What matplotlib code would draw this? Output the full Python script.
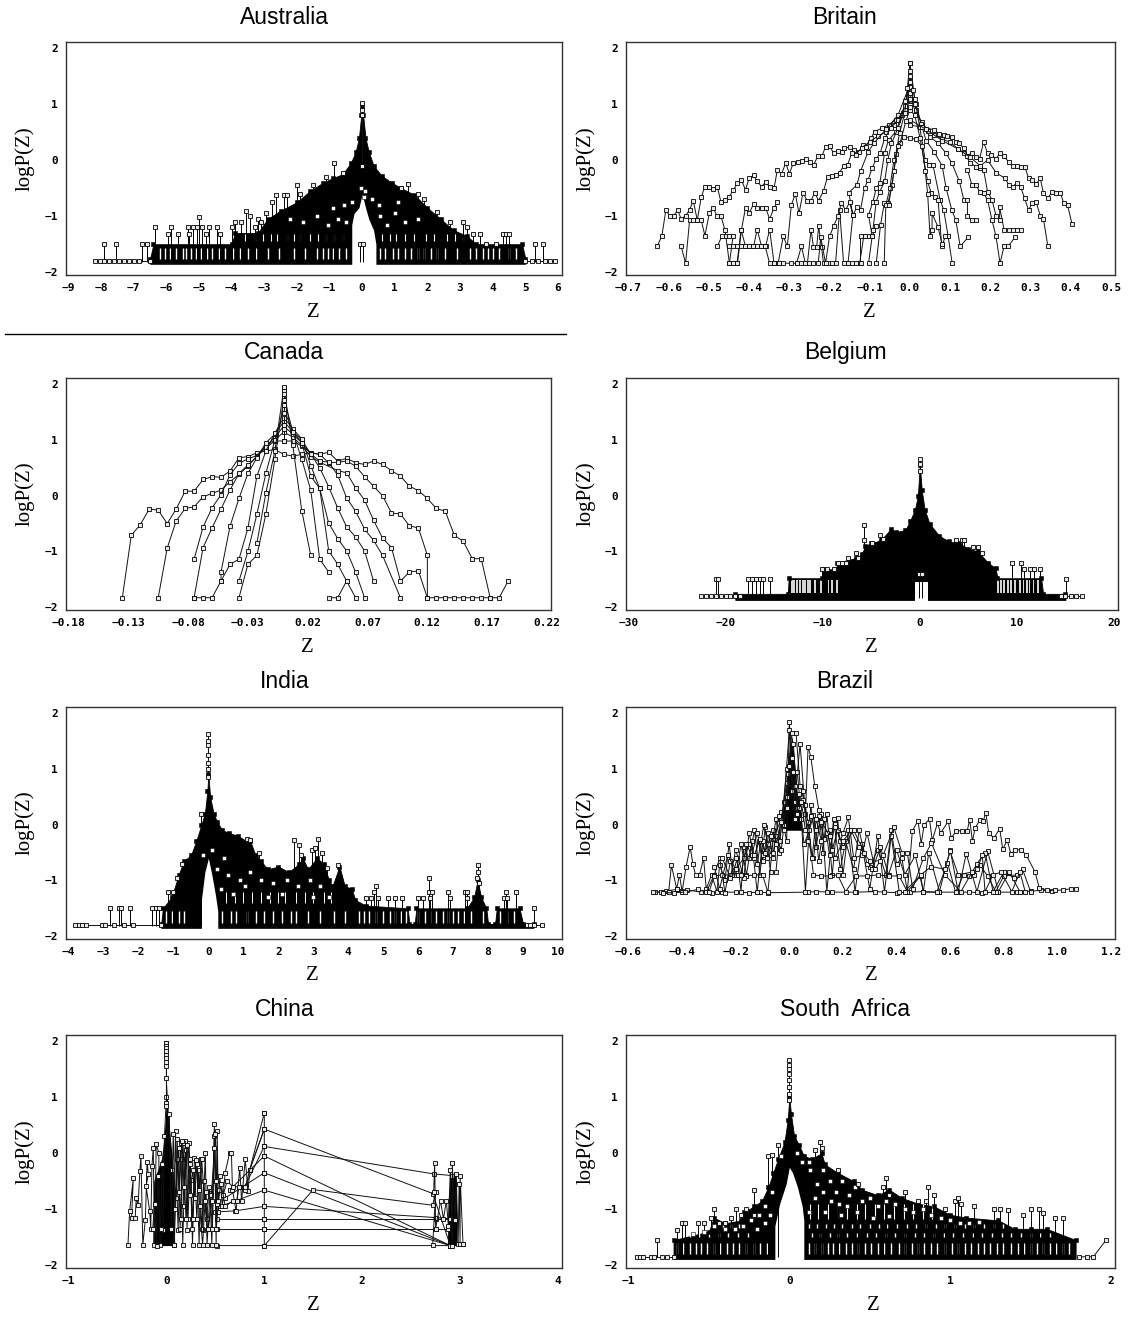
import numpy as np
import matplotlib
matplotlib.use("Agg")
import matplotlib.pyplot as plt
from matplotlib.lines import Line2D

W = 1128
H = 1326

# tick labels
aus_ticks = [-9, -8, -7, -6, -5, -4, -3, -2, -1, 0, 1, 2, 3, 4, 5, 6]
bri_ticks = [-0.7, -0.6, -0.5, -0.4, -0.3, -0.2, -0.1, 0.0, 0.1, 0.2, 0.3, 0.4, 0.5]
can_ticks = [-0.18, -0.13, -0.08, -0.03, 0.02, 0.07, 0.12, 0.17, 0.22]
bel_ticks = [-30, -20, -10, 0, 10, 20]
ind_ticks = [-4, -3, -2, -1, 0, 1, 2, 3, 4, 5, 6, 7, 8, 9, 10]
bra_ticks = [-0.6, -0.4, -0.2, 0.0, 0.2, 0.4, 0.6, 0.8, 1.0, 1.2]
chi_ticks = [-1, 0, 1, 2, 3, 4]
saf_ticks = [-1, 0, 1, 2]
y_ticks = [-2, -1, 0, 1, 2]

# ---------- Canada, one list per curve (z, logP)
can_a = [(-.135,-1.83),(-.1275,-.71),(-.12,-.52),(-.1125,-.24),(-.105,-.26),(-.0975,-.50),(-.09,-.24),(-.0825,.08),(-.075,.08),(-.0675,.29),(-.06,.34),(-.0525,.33),(-.045,.44),(-.0375,.68),(-.03,.70),(-.0225,.77),(-.015,.80),(-.0075,.83),(0,.74),(.0075,.71),(.015,.74),(.0225,.77),(.03,.74),(.0375,.78),(.045,.62),(.0525,.67),(.06,.59),(.0675,.56),(.075,.62),(.0825,.56),(.09,.45),(.0975,.35),(.105,.17),(.1125,.09),(.12,-.05),(.1275,-.23),(.135,-.28),(.1425,-.71),(.15,-.82),(.1575,-1.13),(.165,-1.13),(.1725,-1.83)]
can_b = [(-.105,-1.83),(-.0975,-.94),(-.09,-.455),(-.0825,-.23),(-.075,-.2),(-.0675,-.02),(-.06,.04),(-.0525,.10),(-.045,.25),(-.0375,.38),(-.03,.53),(-.0225,.71),(-.015,.86),(-.0075,.98),(0,.98),(.0075,.98),(.015,.89),(.0225,.77),(.03,.74),(.0375,.59),(.045,.6),(.0525,.62),(.06,.53),(.0675,.34),(.075,.17),(.0825,0),(.09,-.31),(.0975,-.33),(.105,-.54),(.1125,-.58),(.12,-1.07),(.12,-1.83),(.1275,-1.83),(.135,-1.83),(.1425,-1.83),(.15,-1.83),(.1575,-1.83),(.165,-1.83),(.1725,-1.83),(.18,-1.83),(.1875,-1.53)]
can_c = [(-.075,-1.14),(-.0675,-.56),(-.06,-.22),(-.0525,.02),(-.045,.37),(-.0375,.58),(-.03,.66),(-.0225,.72),(-.015,.9),(-.0075,1.0),(0,1.14),(.0075,1.05),(.015,.9),(.0225,.7),(.03,.6),(.045,.45),(.0525,.41),(.06,.14),(.0675,-.08),(.075,-.44),(.0825,-.76),(.09,-.93),(.0975,-1.53),(.105,-1.37),(.1125,-1.35),(.12,-1.83)]
can_d = [(-.075,-1.83),(-.0675,-.93),(-.06,-.58),(-.0525,-.24),(-.045,.1),(-.0375,.4),(-.03,.55),(-.0225,.7),(-.015,.88),(-.0075,1.05),(0,1.25),(.0075,1.1),(.015,.95),(.0225,.75),(.03,.62),(.0375,.6),(.045,.37),(.0525,-.04),(.06,-.28),(.0675,-.6),(.075,-.8),(.0825,-1.07),(.0975,-1.83)]
can_e = [(-.075,-1.83),(-.0675,-1.83),(-.06,-1.83),(-.0525,-1.53),(-.0525,-1.37),(-.045,-.55),(-.0375,-.05),(-.03,.4),(-.0225,.68),(-.015,.95),(-.0075,1.1),(0,1.33),(.0075,1.15),(.015,1.0),(.0225,.75),(.03,.5),(.0375,.16),(.045,-.22),(.0525,-.56),(.06,-.74),(.0675,-.99),(.075,-1.53)]
can_f = [(-.0525,-1.53),(-.045,-1.23),(-.0375,-1.14),(-.03,-.58),(-.0225,.35),(-.015,.8),(-.0075,1.12),(0,1.4),(.0075,1.2),(.015,1.02),(.0225,.54),(.03,.13),(.0375,-.49),(.045,-.77),(.0525,-.99),(.06,-1.37),(.0675,-1.83)]
can_g = [(-.0375,-1.53),(-.03,-1.0),(-.0225,-.33),(-.015,.4),(-.0075,1.0),(0,1.55),(.0075,1.15),(.015,.95),(.0225,.35),(.03,.13),(.0375,-.99),(.045,-1.23),(.0525,-1.53),(.06,-1.83)]
can_h = [(-.0375,-1.83),(-.03,-1.23),(-.0225,-1.07),(-.015,-.33),(-.0075,.65),(0,1.75),(.0075,1.15),(.015,.65),(.0225,.1),(.03,-1.14),(.0375,-1.37)]
can_i = [(-.0225,-.85),(-.015,.05),(-.0075,.8),(0,1.93),(.0075,.9),(.015,-.27),(.0225,-1.07)]
can_j = [(.0375,-1.83),(.045,-1.83),(.0525,-1.53)]
can_peak = [(0,1.95),(0,1.88),(0,1.82),(0,1.72),(0,1.62),(0,1.48),(0,1.26),(0,1.2),(0,.98)]

# ---------- Britain
bri_a = [(-.628,-1.53),(-.617,-1.35),(-.607,-.89),(-.598,-.99),(-.587,-.99),(-.578,-.89),(-.569,-1.05),(-.558,-.99),(-.548,-.89),(-.539,-.72),(-.529,-1.07),(-.519,-1.07),(-.51,-1.35),(-.499,-.95),(-.49,-.85),(-.479,-1.0),(-.47,-1.0),(-.46,-1.25),(-.449,-1.84),(-.44,-1.84),(-.429,-1.84),(-.419,-1.24),(-.409,-.85),(-.4,-.95),(-.389,-.78),(-.38,-.85),(-.369,-.85),(-.359,-.85),(-.349,-1.05),(-.338,-.85),(-.33,-.75)]
bri_b = [(-.569,-1.54),(-.558,-1.84),(-.548,-1.07),(-.539,-1.07),(-.529,-1.07),(-.519,-.66),(-.51,-.47),(-.499,-.48),(-.49,-.52),(-.479,-.48),(-.47,-.75),(-.46,-.71),(-.449,-.65),(-.44,-.54),(-.429,-.41),(-.419,-.36),(-.409,-.53),(-.4,-.32),(-.389,-.27),(-.38,-.38),(-.369,-.47),(-.359,-.39),(-.349,-.48),(-.338,-.5),(-.33,-.18),(-.319,-.24),(-.309,-.05),(-.3,-.24),(-.29,-.05),(-.279,-.04),(-.268,-.01),(-.259,.02),(-.248,-.04),(-.239,-.08),(-.229,.08),(-.219,.07),(-.21,.24),(-.2,.25),(-.189,.12),(-.179,.17),(-.169,.14),(-.163,.21),(-.149,.24),(-.14,.18),(-.127,.15),(-.118,.27),(-.11,.24),(-.097,.39),(-.088,.51),(-.07,.57),(-.053,.63),(-.035,.72),(-.018,.84),(0,1.05)]
bri_c = [(-.479,-1.54),(-.468,-1.36),(-.458,-1.36),(-.449,-1.36),(-.44,-1.36),(-.449,-1.84),(-.44,-1.84),(-.43,-1.84),(-.42,-1.24),(-.409,-1.54),(-.4,-1.54),(-.389,-1.54),(-.38,-1.24),(-.369,-1.54),(-.359,-1.54),(-.349,-1.24),(-.338,-1.84),(-.328,-1.84),(-.315,-1.36),(-.305,-1.54),(-.295,-.8),(-.285,-.6),(-.276,-.95),(-.266,-.58),(-.256,-.72),(-.246,-.72),(-.237,-.58),(-.227,-.72),(-.215,-.55),(-.205,-.3),(-.195,-.28),(-.185,-.27),(-.175,-.22),(-.165,-.1),(-.155,-.08),(-.145,.12),(-.135,.1),(-.12,.22),(-.1,.33),(-.08,.43),(-.06,.5),(-.04,.62),(-.02,.8),(0,1.2)]
bri_d = [(-.449,-1.54),(-.44,-1.54),(-.43,-1.54),(-.42,-1.54),(-.41,-1.54),(-.4,-1.54),(-.39,-1.54),(-.38,-1.54),(-.37,-1.54),(-.36,-1.54),(-.349,-1.84),(-.338,-1.84),(-.325,-1.84),(-.315,-1.84),(-.295,-1.84),(-.28,-1.84),(-.27,-1.84),(-.255,-1.84),(-.246,-1.24),(-.24,-1.55),(-.232,-1.55),(-.227,-1.18),(-.22,-1.55),(-.215,-1.84),(-.205,-1.84),(-.195,-1.84),(-.185,-1.84),(-.175,-.89),(-.165,-1.84),(-.155,-1.84),(-.145,-1.84),(-.135,-1.84),(-.125,-1.84),(-.115,-1.36)]
bri_e = [(-.282,-1.84),(-.27,-1.54),(-.26,-1.84),(-.25,-1.84),(-.24,-1.84),(-.228,-1.84),(-.222,-1.37),(-.21,-1.84),(-.2,-1.36),(-.19,-1.18),(-.179,-1.0),(-.171,-.77),(-.16,-.89),(-.15,-.75),(-.142,-.98),(-.152,-.58),(-.132,-.44),(-.123,-.2),(-.104,.15),(-.09,.3),(-.06,.55),(-.03,.8),(0,1.35)]
bri_f = [(-.154,-1.84),(-.142,-.98),(-.132,-.84),(-.123,-.89),(-.113,-.5),(-.104,-.35),(-.094,-.14),(-.084,.02),(-.074,.13),(-.063,.39),(-.048,.57),(-.03,.72),(0,1.14),(.015,.84),(.03,.68),(.045,.52),(.06,.45),(.08,.38),(.1,.32),(.12,.2),(.135,.12),(.15,-.05),(.165,-.12),(.175,-.14),(.183,-.17),(.193,-.56),(.204,-.71),(.214,-.99),(.223,-1.07),(.223,-.84),(.234,-1.24),(.246,-1.24),(.256,-1.24),(.265,-1.24),(.275,-1.24)]
bri_g = [(-.123,-1.84),(-.123,-1.36),(-.113,-1.36),(-.103,-1.36),(-.094,-1.36),(-.103,-.98),(-.092,-.74),(-.084,-.5),(-.075,-.41),(-.063,.13),(-.053,.36),(-.035,.51),(-.013,.96),(0,1.32),(.015,.9),(.03,.62),(.05,.42),(.07,.3),(.09,.12),(.104,-.05),(.123,-.38),(.134,-.71),(.143,-.71),(.143,-.99),(.154,-1.07),(.164,-1.07)]
bri_h = [(-.103,-1.84),(-.094,-1.36),(-.084,-1.18),(-.092,-1.24),(-.084,-.74),(-.075,-.56),(-.063,-.38),(-.055,0),(-.046,.3),(-.03,.57),(-.013,.9),(0,1.49),(.015,1.0),(.028,.65),(.04,.35),(.06,.15),(.08,-.1),(.09,-.5),(.104,-.89),(.114,-1.07),(.125,-1.54),(.145,-1.37)]
bri_i = [(-.084,-1.84),(-.073,-1.15),(-.064,-.77),(-.055,-.77),(-.044,-.44),(-.035,.11),(-.026,.48),(-.013,.84),(0,1.73),(.012,1.1),(.024,.6),(.038,0),(.048,-.08),(.057,-.08),(.075,-.71),(.084,-.89),(.095,-1.36),(.105,-1.84)]
bri_j = [(-.064,-1.84),(-.06,-.8),(-.05,-.5),(-.04,0),(-.025,.3),(-.01,.7),(0,.9),(.012,.8),(.025,.4),(.044,-.38),(.053,-.59),(.062,-.65),(.07,-.71),(.079,-1.54),(.088,-1.36)]
bri_k = [(-.053,-.8),(-.04,-.2),(-.03,.25),(-.015,.42),(0,.4),(.015,.37),(.03,.25),(.038,-.2),(.044,-.6),(.05,-1.36),(.055,-1.24),(.055,-.95),(.07,-1.2),(.08,-1.5)]
bri_l = [(.0,.62),(.03,.6),(.06,.54),(.073,.47),(.084,.45),(.093,.43),(.104,.41),(.114,.33),(.123,.30),(.134,.21),(.143,.08),(.154,.13),(.164,.05),(.173,.02),(.183,.32),(.193,.13),(.202,.10),(.214,.02),(.224,.13),(.234,.07),(.246,-.04),(.256,-.11),(.265,-.11),(.275,-.125),(.286,-.125),(.295,-.32),(.304,-.35),(.314,-.43),(.324,-.32),(.332,-.59),(.343,-.68),(.353,-.56),(.364,-.58),(.374,-.58),(.382,-.76),(.392,-.8),(.403,-1.14)]
bri_m = [(0,.72),(.04,.55),(.08,.35),(.12,.2),(.15,.05),(.175,-.1),(.193,0),(.215,-.23),(.236,-.32),(.246,-.44),(.256,-.47),(.265,-.41),(.275,-.47),(.285,-.68),(.295,-.89),(.304,-.77),(.314,-.75),(.324,-.99),(.332,-1.05),(.343,-1.54)]
bri_n = [(.143,-.17),(.154,-.44),(.164,-.44),(.173,-.56),(.183,-.59),(.193,-.71),(.204,-1.07),(.214,-1.36),(.224,-1.84),(.234,-1.54),(.244,-1.54),(.262,-1.37)]
bri_peak = [(0,1.73),(0,1.6),(0,1.5),(0,1.4),(0,1.3),(0,1.2),(-.008,1.28),(.008,1.25),(0,1.1),(-.012,1.05),(.012,1.0),(0,.95)]

# ---------- Brazil, jagged runs
bra_a = [(.30,-.75),(.33,-.45),(.36,-.9),(.38,-.1),(.40,-.7),(.42,-.6),(.44,-1.2),(.459,-.11),(.48,.07),(.492,-.34),(.503,0),(.523,.1),(.533,-.28),(.553,.03),(.564,-.15),(.593,.06),(.604,-.24),(.623,-.11),(.643,-.11),(.663,-.12),(.673,.09),(.683,-.3),(.693,-.06),(.712,.09),(.723,.06),(.733,.21),(.744,-.15),(.763,-.24),(.785,-.07),(.796,-.44),(.813,-.28),(.827,-.53),(.843,-.45),(.863,-.45),(.883,-.54),(.916,-.84),(.933,-1.14),(.96,-1.17),(.99,-1.18),(1.02,-1.17),(1.05,-1.15),(1.07,-1.15)]
bra_b = [(-.51,-1.21),(-.48,-1.21),(-.45,-1.2),(-.44,-.73),(-.42,-1.15),(-.41,-.9),(-.40,-1.2),(-.385,-.75),(-.37,-.4),(-.36,-.7),(-.35,-.9),(-.335,-.9),(-.32,-.6),(-.31,-1.15),(-.29,-.9),(-.27,-1.2),(-.26,-.72),(-.24,-1.0),(-.225,-.35),(-.21,-.9),(-.195,-.6),(-.18,-1.2),(-.17,-.4),(-.15,-.6),(-.13,-.1),(-.11,-.9),(-.09,-.05),(-.07,-.85),(-.05,-.85),(-.03,.22),(-.01,-.3),(.0,1.85),(.02,.4),(.04,1.45),(.06,.2),(.07,1.4),(.08,1.22),(.095,.69),(.11,.27),(.125,-.5),(.14,.2),(.16,-.9),(.18,.12),(.2,-.9),(.22,-.1),(.245,-1.2),(.27,-.35),(.3,-1.15),(.33,-.2),(.355,-1.2),(.38,-.2),(.41,-1.2)]
bra_c = [(-.47,-1.22),(-.43,-1.22),(-.39,-1.21),(-.34,-1.16),(-.31,-1.21),(-.28,-.9),(-.26,-.6),(-.24,-1.22),(-.22,-.65),(-.2,-.9),(-.18,-.35),(-.16,-.9),(-.14,-.3),(-.12,-1.21),(-.1,-.3),(-.085,-.6),(-.06,-.1),(-.04,-.5),(-.02,.4),(0,1.7),(.01,.6),(.03,.95),(.045,.1),(.06,-1.2),(.08,.35),(.1,-.4),(.12,.2),(.14,-1.2),(.165,.1),(.19,-.8),(.21,-.3),(.24,-.8),(.26,-.1),(.29,-.7),(.31,-.8),(.34,-.4),(.37,-.9),(.4,-.45),(.43,-.9),(.47,-.55),(.5,-1.2),(.52,-.5),(.56,-1.2),(.6,-.45),(.63,-1.2),(.66,-.52),(.7,-1.2),(.74,-.48),(.78,-1.2),(.82,-.85),(.86,-1.2)]
bra_d = [(-.30,-1.21),(-.28,-.92),(-.25,-.9),(-.22,-.9),(-.19,-.9),(-.16,-.92),(-.13,-.9),(-.1,-.9),(-.08,-1.21),(-.06,-.25),(-.03,.1),(-.01,.75),(.01,1.65),(.025,1.65),(.04,.7),(.06,.35),(.09,-.9),(.12,-.92),(.15,-.92),(.18,-.9),(.21,-1.2),(.25,-.92),(.29,-.92),(.33,-.9),(.37,-.92),(.41,-.92),(.44,-1.2),(.49,-.92),(.5,-1.21),(.55,-1.21),(.59,-.68),(.62,-1.21),(.65,-.9),(.67,-.92),(.69,-.9),(.71,-.72),(.74,-.92),(.77,-1.2),(.8,-.92),(.85,-.9),(.87,-.8),(.9,-1.2)]
bra_e = [(-.28,-.75),(-.26,-1.15),(-.23,-.55),(-.2,-.8),(-.17,-.6),(-.15,-.35),(-.12,-.7),(-.095,.0),(-.07,-.55),(-.05,.1),(-.035,-.3),(-.01,1.0),(.005,1.2),(.02,.1),(.035,.55),(.055,-.35),(.075,-.1),(.09,.18),(.11,-.65),(.13,.1),(.15,-.55),(.17,.02),(.19,-.3),(.22,.13),(.24,-.6),(.27,-.55),(.29,-.15),(.32,-.8),(.35,-.55),(.39,-.05),(.42,-.5),(.44,-.5),(.46,-1.15),(.5,-.6),(.53,-.33),(.58,-.9),(.64,-1.2),(.7,-.7),(.73,-.5),(.76,-1.2),(.8,-.85),(.84,-.95)]
bra_f = [(-.5,-1.21),(-.46,-1.19),(-.42,-1.16),(-.38,-1.17),(-.33,-1.21),(-.29,-1.22),(-.25,-1.21),(-.2,-1.21),(-.15,-1.22),(-.11,-1.21),(-.08,-1.22),(.07,-1.21),(.1,-1.2),(.16,-1.21),(.25,-1.21),(.32,-1.2),(.4,-1.22),(.45,-1.21),(.5,-1.2),(.56,-1.21),(.62,-1.21),(.67,-1.21),(.72,-1.22),(.78,-1.21),(.85,-1.21),(.9,-1.19),(.94,-1.18),(.98,-1.19)]
bra_g = [(.43,-1.2),(.49,-.9),(.53,-.75),(.58,-.8),(.6,-.48),(.63,-.9),(.68,-.85),(.7,-.8),(.72,-.55),(.73,-1.2),(.76,-.9),(.79,-.85),(.83,-1.2),(.86,-.85),(.88,-1.2)]
bra_h = [(-.25,-.6),(-.22,-.95),(-.2,-.45),(-.17,-.95),(-.15,-.15),(-.13,-.6),(-.115,-.3),(-.1,-.65),(-.08,-.15),(-.06,-.6),(-.05,-.2),(-.03,-.45),(-.02,.0),(-.005,.9),(.015,1.45),(.03,.3),(.05,.6),(.07,-.3),(.09,-.6),(.11,.15),(.13,-.25),(.15,-.1),(.17,-.6),(.2,-.3),(.23,-.1),(.26,-.4),(.3,-.65),(.34,-.65)]
bra_i = [(-.2,-.6),(-.18,-.9),(-.16,-.35),(-.14,-.55),(-.12,-.15),(-.1,-.55),(-.08,-.35),(-.06,-.5),(-.04,.15),(-.02,-.1),(-.01,.5),(.01,1.2),(.02,.7),(.035,.3),(.05,.45),(.07,.05),(.085,-.6),(.1,.1),(.12,-.3),(.14,-.15),(.16,-.45),(.18,-.1),(.2,-.4),(.24,-.1),(.28,-.5)]
bra_j = [(-.13,-.55),(-.11,-.25),(-.09,-.5),(-.07,-.2),(-.05,-.35),(-.03,.05),(-.01,.3),(.0,1.05),(.015,.95),(.03,.2),(.045,.4),(.06,-.1),(.08,.15),(.1,-.1),(.12,.05),(.15,-.2),(.17,-.05),(.2,-.15)]
bra_core = [(-.025,.2),(-.012,.7),(0,1.3),(.01,1.6),(.02,1.1),(.03,.55),(.045,.2)]

# ---------- China, jagged runs
chi_a = [(-.393,-1.64),(-.375,-1.03),(-.338,-.45),(-.356,-1.16),(-.319,-1.16),(-.308,-.8),(-.289,-.93),(-.271,-.32),(-.26,-.05),(-.241,-1.64),(-.215,-1.19),(-.197,-.15),(-.185,-.38),(-.208,-.59),(-.17,-1.04),(-.16,-1.35),(-.148,-.23),(-.134,.1),(-.122,-1.64),(-.104,.16),(-.078,.01),(-.067,-1.64),(-.037,-1.37),(-.02,.3),(.0,1.0),(.0,1.97)]
chi_b = [(.074,-1.64),(.093,.4),(.119,-1.37),(.145,.19),(.167,-1.64),(.193,.22),(.211,-1.37),(.23,.19),(.249,-.47),(.267,-1.64),(.286,-.08),(.312,-.17),(.334,-1.64),(.352,-.11),(.371,-1.37),(.397,0),(.415,-1.64),(.445,-.71),(.464,-1.64),(.49,.52),(.508,-1.64),(.519,.4),(.53,-1.05),(.545,-.41),(.571,-.95),(.6,-.35),(.645,0),(.664,.01),(.675,-.65),(.712,-1.04),(.749,-.26),(.768,-.86),(.805,-.11),(.835,-.68),(.85,-.3),(1,.43)]
chi_c = [(.06,-.3),(.1,-.8),(.125,.1),(.14,-1.35),(.16,-.1),(.18,-.95),(.205,.05),(.22,-1.18),(.245,-.1),(.26,-1.35),(.29,-.3),(.31,-1.18),(.33,-.3),(.36,-1.35),(.38,-.5),(.41,-1.18),(.44,-.6),(.47,-1.35),(.49,.3),(.51,-1.35),(.54,-.65),(.58,-.75),(.62,-.5),(.68,-.6),(.75,-.6),(.8,-.65),(1,.72)]
chi_d = [(.08,-1.64),(.11,-.1),(.15,-1.18),(.17,.18),(.2,-1.18),(.24,-.2),(.27,-1.18),(.3,-.12),(.34,-.95),(.37,-1.64),(.4,-.7),(.43,-1.35),(.46,-.75),(.5,.35),(.52,-.9),(.56,-.55),(.6,-.95),(.68,-.85),(.72,-.86),(.74,-.6),(.8,-.6),(1,.12),(2.73,-.37),(2.92,-.4)]
chi_e = [(.52,-1.65),(1,-1.65),(2.9,-1.65),(3.0,-1.63),(3.03,-1.63)]
chi_f = [(.52,-1.35),(1,-1.35),(2.75,-1.35),(2.88,-1.35)]
chi_g = [(.52,-1.18),(1,-1.18),(2.75,-1.18),(2.9,-1.18)]
chi_h = [(.5,-1.05),(.7,-1.03),(1,-.95),(2.75,-1.15),(2.9,-1.17)]
chi_i = [(.55,-.95),(1,-.66),(2.9,-1.65)]
chi_j = [(.6,-.8),(1,-.35),(2.9,-1.65)]
chi_k = [(.65,-.65),(1,-.05),(2.9,-1.65)]
chi_l = [(.85,-.3),(1,.43),(2.72,-.72),(2.9,-1.65)]
chi_m = [(1,.72),(1,.43),(1,.12),(1,-.05),(1,-.35),(1,-.66),(1,-.95),(1,-1.18),(1,-1.35),(1,-1.65),(1.5,-.65),(2.72,-.93),(2.75,-.7),(2.72,-1.64)]
chi_n = [(2.73,-.7),(2.74,-.17),(2.75,-1.35),(2.8,-.85),(2.83,-1.17),(2.86,-.85),(2.88,-1.3),(2.9,-.3),(2.92,-1.65),(2.92,-.18),(2.95,-1.2),(2.96,-.38),(2.98,-1.63),(2.99,-.55),(3.0,-1.63),(3.0,-.4),(3.03,-1.63)]
chi_o = [(-.14,-1.35),(-.12,-.9),(-.1,-1.65),(-.09,-.4),(-.06,-1.35),(-.04,-.2),(.03,.7),(.05,-1.35),(.07,.35),(.09,-1.0),(.11,.25),(.13,-.7),(.16,.22),(.18,-.6),(.21,.15),(.24,-.75),(.27,-.3),(.29,-.8),(.31,-.2),(.33,-.65),(.36,-.1),(.39,-.85),(.42,-1.35),(.47,-.85),(.49,.1),(.51,-.5),(.53,-.85)]
chi_core = [(-.14,-1.65),(-.13,-.5),(-.09,-.3),(-.05,-.1),(-.03,.2),(-.01,.6),(0,1.3),(.012,.9),(.03,.45),(.05,.1),(.07,-.3),(.085,-1.65)]
chi_blob = [(2.87,-1.65),(2.88,-.8),(2.9,-.45),(2.94,-.35),(2.96,-.4),(2.97,-1.65)]
chi_peak = [(0,1.97),(0,1.92),(0,1.87),(0,1.82),(0,1.76),(0,1.7),(0,1.63),(0,1.55),(0,1.35),(0,.9),(0,.85)]

# ---------- dense panels: envelope top of the black mass, hole under the peak,
# stems above the mass, peak stack, tail points on the floor, white stripes and specks
aus_env = [(-6.5,-1.76),(-6.4,-1.5),(-4.0,-1.5),(-3.9,-1.3),(-3.2,-1.3),(-2.9,-1.05),(-2.5,-.9),(-2.0,-.75),(-1.6,-.55),(-1.2,-.4),(-.9,-.32),(-.6,-.25),(-.35,-.05),(-.2,.15),(-.1,.4),(-.03,.8),(0,.95),(.03,.8),(.1,.4),(.2,.15),(.35,-.1),(.6,-.28),(.9,-.4),(1.2,-.5),(1.6,-.62),(2.0,-.85),(2.4,-1.05),(2.8,-1.25),(3.2,-1.35),(3.5,-1.5),(4.9,-1.5),(5.0,-1.76)]
aus_hole = [(-.32,-1.15),(-.25,-.95),(-.1,-.85),(0,-.6),(.08,-.8),(.2,-1.05),(.35,-1.25),(.42,-1.5)]
aus_stem = [(-7.9,-1.5),(-7.55,-1.5),(-6.75,-1.5),(-6.6,-1.5),(-6.35,-1.2),(-5.85,-1.2),(-5.95,-1.32),(-5.65,-1.32),(-5.35,-1.2),(-5.2,-1.2),(-5.3,-1.32),(-5.05,-1.2),(-5.0,-1.02),(-4.9,-1.2),(-4.8,-1.32),(-4.7,-1.2),(-4.45,-1.2),(-4.35,-1.32),(-4.0,-1.2),(-3.9,-1.1),(-3.7,-1.1),(-3.55,-.9),(-3.45,-1.0),(-3.3,-1.2),(-3.2,-1.05),(-3.1,-1.1),(-2.95,-.95),(-2.75,-.75),(-2.65,-.62),(-2.4,-.62),(-2.3,-.62),(-2.0,-.45),(-1.9,-.6),(-1.5,-.45),(-1.1,-.3),(-.85,-.05),(-.6,-.22),(1.4,-.43),(1.2,-.5),(1.7,-.6),(1.9,-.7),(2.3,-.92),(2.7,-1.1),(3.1,-1.1),(3.2,-1.2),(3.4,-1.32),(3.6,-1.32),(4.1,-1.5),(4.3,-1.32),(4.4,-1.32),(4.5,-1.32),(3.8,-1.5),(5.3,-1.5),(5.55,-1.5),(-.07,-1.5),(.03,-1.5)]
aus_peak = [(0,1.02),(0,.9),(0,.8),(0,-.1)]
aus_tail_l = [(-8.2,-1.8),(-8.05,-1.8),(-7.9,-1.8),(-7.75,-1.8),(-7.6,-1.8),(-7.45,-1.8),(-7.3,-1.8),(-7.15,-1.8),(-7.0,-1.8),(-6.85,-1.8),(-6.5,-1.8)]
aus_tail_r = [(5.0,-1.8),(5.2,-1.8),(5.4,-1.8),(5.6,-1.8),(5.75,-1.8),(5.9,-1.8)]
aus_gap1 = [-6.75,-6.6,-6.2,-6.05,-5.9,-5.7,-5.5,-5.4,-5.25,-5.1,-4.95,-4.75,-4.6,-4.4,-4.2,-3.95,-3.75,-3.5,-3.25,-2.9,-2.55,-2.1,-1.75,-1.4,-1.2,-1.05,-.9,-.7,-.5,.55,.7,.95,1.1,1.3,1.5,1.7,1.9,2.1,2.3,2.55,2.9,3.3,3.5,3.7,3.85,4.0,4.2,4.5,4.7]
aus_gap2 = [-3.6,-3.3,-3.05,-2.8,-2.6,-2.3,-2.1,-1.9,-1.6,-1.35,-1.1,-.85,-.6,.6,.85,1.05,1.3,1.6,1.95,2.2,2.6,2.85,3.1]
aus_speck = [(-.5,-1.1),(-.75,-1.05),(-1.05,-1.15),(-1.4,-1.0),(-1.8,-1.1),(-2.2,-1.05),(.55,-1.0),(.75,-1.15),(1.0,-.95),(1.3,-1.1),(1.7,-1.05),(.1,-.55),(-.05,-.5),(.05,-.65),(-.3,-.75),(.3,-.7),(.5,-.8),(-.55,-.8),(-.9,-.85),(1.1,-.75)]

bel_env = [(-19,-1.76),(-13.6,-1.76),(-13.5,-1.48),(-10.1,-1.48),(-10.0,-1.32),(-8.6,-1.32),(-8.5,-1.2),(-6.6,-1.12),(-6.0,-1.05),(-5.6,-.9),(-5,-.85),(-4,-.8),(-3,-.6),(-2.5,-.65),(-1.5,-.62),(-1,-.45),(-.5,-.25),(-.2,0),(0,.55),(.2,.1),(.5,-.25),(1,-.5),(2,-.72),(3,-.82),(4,-.85),(5,-.95),(6,-1.0),(7,-1.2),(7.8,-1.3),(8,-1.48),(12.5,-1.48),(12.7,-1.76),(15,-1.76)]
bel_hole = [(-.45,-1.55),(.85,-1.55)]
bel_stem = [(-21,-1.5),(-20.8,-1.5),(-17.7,-1.5),(-17.3,-1.5),(-16.9,-1.5),(-16.5,-1.5),(-16.1,-1.5),(-15.4,-1.5),(-10.1,-1.32),(-9.6,-1.32),(-8.8,-1.32),(-8.4,-1.2),(-8.0,-1.2),(-7.6,-1.2),(-7.4,-1.12),(-6.6,-1.03),(-6.4,-1.12),(-5.7,-.53),(-5.7,-.8),(-4.9,-.85),(-4.1,-.7),(-3.8,-.78),(-.1,-1.4),(.2,-1.4),(3.7,-.8),(4.3,-.8),(4.6,-.8),(5.5,-.92),(6.0,-.92),(6.4,-1.03),(9.5,-1.2),(10.4,-1.2),(10.7,-1.32),(11.3,-1.32),(11.8,-1.32),(12.4,-1.32),(15.1,-1.5)]
bel_peak = [(0,.65),(0,.57),(0,.45)]
bel_tail_l = [(-22.5,-1.8),(-22,-1.8),(-21.5,-1.8),(-21,-1.8),(-20.5,-1.8),(-20,-1.8),(-19.5,-1.8),(-19,-1.8),(-18.5,-1.8)]
bel_tail_r = [(14.5,-1.8),(15,-1.8),(15.6,-1.8),(16.1,-1.8),(16.7,-1.8)]
bel_gap1 = [-13.2,-13.0,-12.6,-12.3,-12.0,-11.8,-11.5,-11.3,-10.8,-10.2,-9.5,-9.0,-8.5,8.1,8.4,8.7,9.1,9.4,9.8,10.3,10.7,11.0,11.4,11.8,12.2]
bel_gap2 = [-18,-17.6,-17.3,-17,-16.7,-16.4,-15.8,-15.1,-14.7,-14.2,-13.8]

ind_env = [(-1.35,-1.78),(-1.3,-1.5),(-1.05,-1.3),(-.85,-.9),(-.7,-.65),(-.5,-.55),(-.35,-.3),(-.2,0),(-.1,.2),(-.03,.6),(0,.9),(.05,.5),(.15,.2),(.25,.05),(.4,-.1),(.6,-.15),(.85,-.2),(1.1,-.3),(1.2,-.3),(1.35,-.55),(1.5,-.65),(1.7,-.8),(2.0,-.75),(2.3,-.85),(2.6,-.7),(2.7,-.6),(2.85,-.8),(3.1,-.6),(3.3,-.7),(3.45,-1.0),(3.55,-1.1),(3.75,-.75),(3.9,-1.1),(4.1,-1.15),(4.2,-1.35),(4.5,-1.45),(5.7,-1.5),(5.75,-1.78),(5.9,-1.78),(5.95,-1.5),(7.4,-1.5),(7.6,-1.3),(7.7,-1.0),(7.8,-1.3),(7.95,-1.5),(8.0,-1.78),(8.2,-1.78),(8.25,-1.5),(8.9,-1.5),(9.0,-1.78),(9.3,-1.78)]
ind_hole = [(-.2,-1.35),(-.1,-.85),(0,-.6),(.1,-.9),(.2,-1.25),(.27,-1.55)]
ind_stem = [(-2.8,-1.5),(-2.55,-1.5),(-2.5,-1.5),(-2.25,-1.5),(-1.6,-1.5),(-1.5,-1.5),(-1.4,-1.5),(-1.15,-1.2),(-1.0,-1.2),(-.9,-.95),(-.75,-.7),(-.2,.2),(1.1,-.25),(1.2,-.27),(1.45,-.5),(2.45,-.27),(2.6,-.37),(2.65,-.55),(2.95,-.45),(3.05,-.42),(3.15,-.25),(3.25,-.5),(3.4,-.78),(3.7,-.72),(4.75,-1.2),(4.8,-1.1),(4.5,-1.32),(4.65,-1.32),(4.85,-1.32),(5.15,-1.32),(5.35,-1.32),(5.55,-1.32),(6.0,-1.32),(6.15,-1.32),(6.3,-.95),(6.3,-1.2),(6.4,-1.2),(6.35,-1.32),(6.85,-1.2),(6.9,-1.32),(7.35,-1.2),(7.4,-1.2),(7.4,-1.32),(7.7,-.72),(7.7,-.85),(7.68,-.95),(7.75,-1.05),(8.5,-1.2),(8.45,-1.32),(8.55,-1.32),(8.8,-1.2),(9.3,-1.5)]
ind_peak = [(0,1.62),(0,1.5),(0,1.42),(0,1.25),(0,1.1),(0,1.0),(0,.85)]
ind_tail_l = [(-3.8,-1.8),(-3.7,-1.8),(-3.6,-1.8),(-3.5,-1.8),(-3.05,-1.8),(-2.95,-1.8),(-2.7,-1.8),(-2.4,-1.8),(-2.15,-1.8),(-1.35,-1.8)]
ind_tail_r = [(9.1,-1.8),(9.2,-1.8),(9.3,-1.8),(9.55,-1.8)]
ind_gap1 = [-1.2,-1.05,-.85,-.7,.4,.65,.8,1.1,1.35,1.6,1.85,2.1,2.35,2.5,2.85,3.2,3.6,3.9,4.3,4.45,4.6,4.8,5.0,5.2,5.35,5.5,5.65,6.0,6.2,6.35,6.5,6.7,6.85,7.0,7.15,7.3,7.5,7.85,8.35,8.55,8.75]
ind_gap2 = [.5,.75,1.0,1.25,1.5,1.75,2.0,2.2,2.5,2.75,3.0,3.3,3.5]
ind_speck = [(.55,-.9),(.9,-1.0),(1.2,-.85),(1.05,-1.1),(1.5,-1.0),(1.85,-1.05),(2.25,-1.0),(2.55,-1.1),(2.9,-1.0),(3.2,-1.1),(3.45,-1.3),(.35,-1.15),(.7,-1.25),(1.7,-1.3),(2.1,-1.25),(3.0,-1.3),(.25,-.8),(.45,-.6),(-.15,-.55),(.1,-.45)]

saf_env = [(-.72,-1.55),(-.5,-1.4),(-.47,-1.15),(-.4,-1.25),(-.3,-1.2),(-.28,-1.05),(-.22,-.95),(-.17,-.85),(-.13,-.6),(-.1,-.35),(-.07,-.1),(-.03,.2),(-.01,.6),(0,1.0),(.01,.7),(.03,.3),(.06,.15),(.09,-.05),(.14,-.1),(.2,0),(.22,-.2),(.3,-.35),(.4,-.5),(.45,-.65),(.55,-.75),(.62,-.65),(.7,-.8),(.8,-.9),(.9,-.95),(1.0,-1.1),(1.1,-1.15),(1.3,-1.2),(1.4,-1.35),(1.5,-1.35),(1.6,-1.35),(1.78,-1.55)]
saf_hole = [(-.09,-1.3),(-.06,-.9),(-.02,-.55),(0,-.25),(.02,-.35),(.05,-.6),(.08,-.95),(.09,-1.2)]
saf_stem = [(-.82,-1.55),(-.7,-1.38),(-.67,-1.25),(-.65,-1.25),(-.57,-1.25),(-.53,-1.25),(-.49,-1.15),(-.47,-1.0),(-.44,-1.25),(-.4,-1.25),(-.36,-1.15),(-.33,-1.0),(-.3,-1.1),(-.27,-1.0),(-.22,-1.1),(-.22,-.65),(-.13,-.05),(-.11,-.03),(-.07,.15),(.16,.05),(.19,.2),(.2,.1),(.3,-.3),(.43,-.55),(.58,-.6),(.6,-.45),(.62,-.75),(.72,-.7),(.8,-.85),(.85,-.85),(.86,-.6),(.9,-.75),(.97,-1.0),(1.03,-.85),(1.05,-.8),(1.07,-.9),(1.15,-.95),(1.27,-1.0),(1.31,-1.0),(1.36,-1.02),(1.45,-1.1),(1.5,-1.0),(1.55,-1.0),(1.58,-1.07),(1.65,-1.15),(1.7,-1.15)]
saf_peak = [(0,1.67),(0,1.58),(0,1.5),(0,1.42),(0,1.3),(0,1.18),(0,1.05),(0,.95)]
saf_tail_l = [(-.95,-1.85),(-.93,-1.85),(-.91,-1.85),(-.86,-1.85),(-.84,-1.85),(-.79,-1.85),(-.76,-1.85),(-.72,-1.85)]
saf_tail_r = [(1.8,-1.85),(1.85,-1.85),(1.89,-1.85),(1.97,-1.55)]
saf_gap1 = [-.7,-.66,-.62,-.58,-.55,-.51,-.47,-.43,-.39,-.35,-.31,-.27,-.22,-.18,-.14,.12,.16,.2,.24,.27,.31,.35,.39,.43,.47,.51,.55,.59,.63,.68,.72,.76,.8,.84,.88,.92,.97,1.01,1.05,1.09,1.13,1.17,1.21,1.25,1.29,1.33,1.38,1.42,1.46,1.5,1.54,1.58,1.62,1.66,1.7,1.74]
saf_gap2 = [-.68,-.62,-.56,-.5,-.44,-.38,-.32,-.26,.14,.19,.25,.3,.36,.42,.48,.54,.6,.66,.72,.78,.84,.9,.96,1.02,1.08,1.14,1.2,1.26,1.32,1.38,1.44,1.5,1.56,1.62]
saf_gap3 = [-.46,-.41,-.36,-.31,.12,.17,.23,.28,.33,.39,.44,.5,.56,.61,.67,.73,.79,.85,.91,.97,1.03,1.09,1.15,1.21,1.27,1.33,1.39,1.45,1.52,1.58]
saf_gap4 = [.13,.18,.24,.3,.36,.42,.47,.53,.59,.65,.71,.77,.83,.89]
saf_speck = [(.13,-.3),(.17,-.55),(.21,-.3),(.25,-.5),(.29,-.7),(.33,-.5),(.37,-.75),(.41,-.6),(.45,-.85),(.16,-.8),(.21,-.7),(.26,-.85),(.31,-.9),(.36,-.95),(.5,-.8),(.55,-.95),(.6,-.85),(.66,-.9),(.72,-1.0),(.77,-1.05),(.83,-1.0),(.88,-1.1),(.94,-1.15),(1.0,-1.2),(1.06,-1.25),(1.12,-1.25),(1.18,-1.22),(.12,-1.05),(.22,-1.05),(.32,-1.1),(.42,-1.05),(.52,-1.15),(.62,-1.12),(-.11,-.7),(-.15,-.95),(-.19,-1.1),(-.24,-1.2),(-.29,-1.3),(-.12,-1.1),(-.15,-1.25),(-.2,-1.35),(-.34,-1.35),(-.4,-1.35),(-.47,-1.3),(-.53,-1.4),(-.6,-1.45),(.08,-.15),(.12,-.15),(-.05,-.05),(.05,.0)]

plt.rcParams['font.family'] = ['Liberation Sans', 'DejaVu Sans']
fig = plt.figure(figsize=(W / 100, H / 100), dpi=100)


def px_text(x, y, s, **kw):
    fig.text(x / W, 1 - y / H, s, ha='center', va='center', **kw)


def panel(left, right, top, bottom, ticks, fmt, title, title_x, title_y, z_x, z_y, ylab_x):
    ax = fig.add_axes([left / W, 1 - bottom / H, (right - left) / W, (bottom - top) / H])
    ppu = (right - left - 6.5) / (ticks[-1] - ticks[0])
    ax.set_xlim(ticks[0] - 2.5 / ppu, ticks[-1] + 4 / ppu)
    ax.set_ylim(-2.05, 2.11)
    ax.set_xticks(ticks)
    ax.set_xticklabels([(fmt % t).replace('-', '\u2212') for t in ticks])
    ax.set_yticks(y_ticks)
    ax.set_yticklabels([str(t).replace('-', '\u2212') for t in y_ticks])
    ax.tick_params(length=0, pad=6)
    for lab in ax.get_xticklabels() + ax.get_yticklabels():
        lab.set_family('DejaVu Sans Mono')
        lab.set_weight('bold')
        lab.set_size(8)
    for sp in ax.spines.values():
        sp.set_linewidth(1.0)
        sp.set_color('#333333')
    px_text(title_x, title_y, title, fontsize=16.5, family='Liberation Sans')
    px_text(z_x, z_y, 'Z', fontsize=15, family='Liberation Serif')
    px_text(ylab_x, (top + bottom) / 2, 'logP(Z)', fontsize=15, family='Liberation Serif', rotation=90)
    return ax


def trace(ax, pts, ms=2.9, zorder=2.5):
    z, y = np.array(pts).T
    ax.plot(z, y, color='#111111', lw=0.7, marker='s', ms=ms, mfc='#e8e8e8', mec='black', mew=0.6,
            solid_joinstyle='miter', zorder=zorder)


def dense(ax, floor, env, hole, stem, peak, tails, gap_groups, speck=None):
    z, y = np.array(env).T
    ax.fill_between(z, floor - 0.03, y, color='black', lw=0.6, zorder=2)
    for zs, lo, hi, lw in gap_groups:
        ax.vlines(zs, lo, hi, color='white', lw=lw, zorder=3)
    hz, hy = np.array(hole).T
    ax.fill_between(hz, floor - 0.06, hy, color='white', lw=0, zorder=3)
    sz, sy = np.array(stem).T
    ax.vlines(sz, floor, sy, color='black', lw=0.7, zorder=4)
    ax.plot(sz, sy, ls='none', marker='s', ms=2.9, mfc='#e8e8e8', mec='black', mew=0.6, zorder=5)
    ax.plot(z, y, ls='none', marker='s', ms=2.4, mfc='black', mec='black', mew=0.4, zorder=4)
    if speck is not None:
        kz, ky = np.array(speck).T
        ax.plot(kz, ky, ls='none', marker='s', ms=2.2, mfc='white', mec='black', mew=0.4, zorder=4)
    for t in tails:
        trace(ax, t, ms=2.6, zorder=4)
    trace(ax, peak, zorder=5)


# Australia
ax = panel(66, 562, 42, 275, aus_ticks, '%d', 'Australia', 284, 17, 313, 312, 25)
dense(ax, -1.82, aus_env, aus_hole, aus_stem, aus_peak, [aus_tail_l, aus_tail_r],
      [(aus_gap1, -1.76, -1.56, 1.0), (aus_gap2, -1.44, -1.32, 0.8)], aus_speck)

# Britain
ax = panel(626, 1115, 42, 275, bri_ticks, '%.1f', 'Britain', 845, 17, 869, 312, 586)
for s in [bri_a, bri_b, bri_c, bri_d, bri_e, bri_f, bri_g, bri_h, bri_i, bri_j, bri_k, bri_l, bri_m, bri_n, bri_peak]:
    trace(ax, s)

# rule under the first row
fig.add_artist(Line2D([5 / W, 566 / W], [1 - 334 / H, 1 - 334 / H], color='black', lw=1))

# Canada
ax = panel(66, 551, 378, 610, can_ticks, '%.2f', 'Canada', 284, 353, 307, 648, 25)
for s in [can_a, can_b, can_c, can_d, can_e, can_f, can_g, can_h, can_i, can_j, can_peak]:
    trace(ax, s)

# Belgium
ax = panel(626, 1118, 378, 610, bel_ticks, '%d', 'Belgium', 845, 353, 871, 648, 586)
dense(ax, -1.84, bel_env, bel_hole, bel_stem, bel_peak, [bel_tail_l, bel_tail_r],
      [(bel_gap1, -1.74, -1.52, 1.2), (bel_gap2, -1.74, -1.55, 0.8)])

# India
ax = panel(66, 562, 707, 939, ind_ticks, '%d', 'India', 285, 682, 312, 976, 25)
dense(ax, -1.82, ind_env, ind_hole, ind_stem, ind_peak, [ind_tail_l, ind_tail_r],
      [(ind_gap1, -1.76, -1.54, 1.0), (ind_gap2, -1.4, -1.2, 0.7)], ind_speck)

# Brazil
ax = panel(626, 1115, 707, 939, bra_ticks, '%.1f', 'Brazil', 845, 682, 871, 976, 586)
cz, cy = np.array(bra_core).T
ax.fill_between(cz, -.1, cy, color='black', lw=0)
for s in [bra_f, bra_a, bra_b, bra_c, bra_d, bra_e, bra_g, bra_h, bra_i, bra_j]:
    trace(ax, s)

# China
ax = panel(66, 562, 1035, 1268, chi_ticks, '%d', 'China', 285, 1010, 313, 1305, 25)
cz, cy = np.array(chi_core).T
ax.fill_between(cz, -1.65, cy, color='black', lw=0)
cz, cy = np.array(chi_blob).T
ax.fill_between(cz, -1.65, cy, color='black', lw=0)
for s in [chi_e, chi_f, chi_g, chi_h, chi_i, chi_j, chi_k, chi_l, chi_m, chi_a, chi_b, chi_c, chi_d, chi_o, chi_n, chi_peak]:
    trace(ax, s, ms=2.7)

# South Africa
ax = panel(626, 1115, 1035, 1268, saf_ticks, '%d', 'South  Africa', 845, 1010, 873, 1305, 586)
dense(ax, -1.86, saf_env, saf_hole, saf_stem, saf_peak, [saf_tail_l, saf_tail_r],
      [(saf_gap1, -1.8, -1.6, 1.0), (saf_gap2, -1.5, -1.42, 1.0), (saf_gap3, -1.34, -1.26, 1.0), (saf_gap4, -1.18, -.9, 0.8)], saf_speck)

fig.savefig('out.png', dpi=100)
